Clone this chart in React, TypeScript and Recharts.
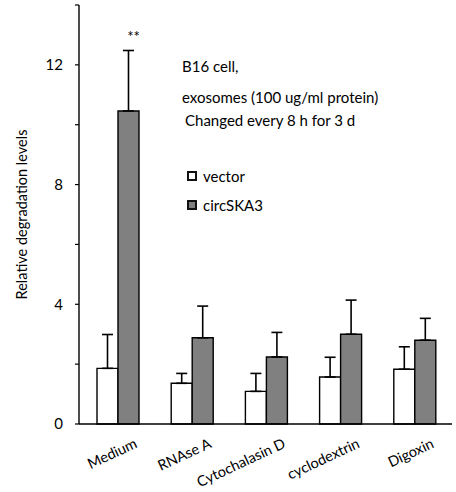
import React from 'react';
import { BarChart, Bar, XAxis, YAxis, ErrorBar, Legend, LabelList } from 'recharts';

// Treatments along the x axis
const categories = ['Medium', 'RNAse A', 'Cytochalasin D', 'cyclodextrin', 'Digoxin'];
// Mean relative degradation levels
const vectorValues = [1.86, 1.36, 1.09, 1.57, 1.83];
const circValues = [10.46, 2.88, 2.24, 3.0, 2.8];
// Upper error (SD) for each bar
const vectorErrors = [1.13, 0.33, 0.6, 0.66, 0.75];
const circErrors = [2.02, 1.06, 0.82, 1.14, 0.73];
// Significance marks above the circSKA3 bars
const significance = ['**', '', '', '', ''];
// Y axis
const yTicks = [0, 2, 4, 6, 8, 10, 12, 14];
const yLabeled = [0, 4, 8, 12];
const seriesNames = ['vector', 'circSKA3'];
const notes = ['B16 cell,', 'exosomes (100 ug/ml protein)', 'Changed every 8 h for 3 d'];

const FONT = 'Lato, "Open Sans", sans-serif';
const GRAY = '#808080';

const data = categories.map((name, i) => ({
  name,
  vector: vectorValues[i],
  circSKA3: circValues[i],
  vErr: [0, vectorErrors[i]],
  cErr: [0, circErrors[i]],
  sig: significance[i],
}));

const XTick = (props: any) => {
  const { x, y, payload } = props;
  return (
    <g transform={`translate(${x + 20},${y + 15})`}>
      <text
        x={0}
        y={0}
        textAnchor="end"
        transform="rotate(-25)"
        fontFamily={FONT}
        fontSize={14.5}
        fill="#000"
      >
        {payload.value}
      </text>
    </g>
  );
};

const SigLabel = (props: any) => {
  const { x, y, width, height, index } = props;
  const mark = data[index]?.sig;
  if (!mark) return null;
  const v = data[index].circSKA3;
  const errPx = (circErrors[index] * height) / v;
  return (
    <text
      x={x + width / 2 + 5}
      y={y - errPx - 8}
      textAnchor="middle"
      fontFamily={FONT}
      fontSize={15}
      fill="#000"
    >
      {mark}
    </text>
  );
};

const LegendBox = (props: any) => {
  const items = [...(props.payload || [])].sort(
    (a: any, b: any) => seriesNames.indexOf(a.value) - seriesNames.indexOf(b.value)
  );
  return (
    <div style={{ fontFamily: FONT, fontSize: 15, color: '#000', textAlign: 'left' }}>
      {items.map((it: any) => (
        <div key={it.value} style={{ display: 'flex', alignItems: 'center', height: 29 }}>
          <span
            style={{
              display: 'inline-block',
              width: 6,
              height: 6,
              border: '2px solid #111',
              background: it.value === 'vector' ? '#fff' : GRAY,
              marginRight: 6,
            }}
          />
          <span>{it.value}</span>
        </div>
      ))}
    </div>
  );
};

export default function App() {
  return (
    <div style={{ position: 'absolute', left: 0, top: 0, width: 456, height: 492, background: '#fff' }}>
      <BarChart
        width={456}
        height={492}
        data={data}
        margin={{ top: 5, right: 4, bottom: 8, left: 0 }}
        barGap={0}
        barSize={21}
      >
        <XAxis
          dataKey="name"
          axisLine={{ stroke: '#000', strokeWidth: 1.4 }}
          tickLine={false}
          tick={<XTick />}
          interval={0}
          height={60}
          padding={{ left: 2, right: 0 }}
        />
        <YAxis
          width={79}
          domain={[0, 14]}
          ticks={yTicks}
          interval={0}
          axisLine={{ stroke: '#000', strokeWidth: 1.4 }}
          tickLine={{ stroke: '#000', strokeWidth: 1.2 }}
          tickSize={4}
          tickMargin={12}
          tick={{ fontFamily: FONT, fontSize: 15, fill: '#000' }}
          tickFormatter={(v: number) => (yLabeled.includes(v) ? String(v) : '')}
          label={{
            value: 'Relative degradation levels',
            angle: -90,
            position: 'insideLeft',
            offset: 22,
            style: { fontFamily: FONT, fontSize: 14.5, fill: '#000', textAnchor: 'middle' },
          }}
        />
        <Legend
          layout="horizontal"
          verticalAlign="middle"
          align="center"
          content={<LegendBox />}
          wrapperStyle={{ position: 'absolute', left: 187, top: 161, width: 120, height: 60 }}
        />
        <Bar dataKey="vector" name="vector" fill="#fff" stroke="#000" strokeWidth={1.4} isAnimationActive={false}>
          <ErrorBar dataKey="vErr" width={5.5} stroke="#000" strokeWidth={1.6} direction="y" />
        </Bar>
        <Bar dataKey="circSKA3" name="circSKA3" fill={GRAY} stroke="#000" strokeWidth={1.4} isAnimationActive={false}>
          <ErrorBar dataKey="cErr" width={5.5} stroke="#000" strokeWidth={1.6} direction="y" />
          <LabelList dataKey="circSKA3" content={<SigLabel />} />
        </Bar>
      </BarChart>
      <svg
        width={456}
        height={492}
        style={{ position: 'absolute', left: 0, top: 0, pointerEvents: 'none' }}
      >
        <text x={182} y={72} fontFamily={FONT} fontSize={15} fill="#000">{notes[0]}</text>
        <text x={182} y={103} fontFamily={FONT} fontSize={15} fill="#000">{notes[1]}</text>
        <text x={185} y={126} fontFamily={FONT} fontSize={15} fill="#000">{notes[2]}</text>
      </svg>
    </div>
  );
}
